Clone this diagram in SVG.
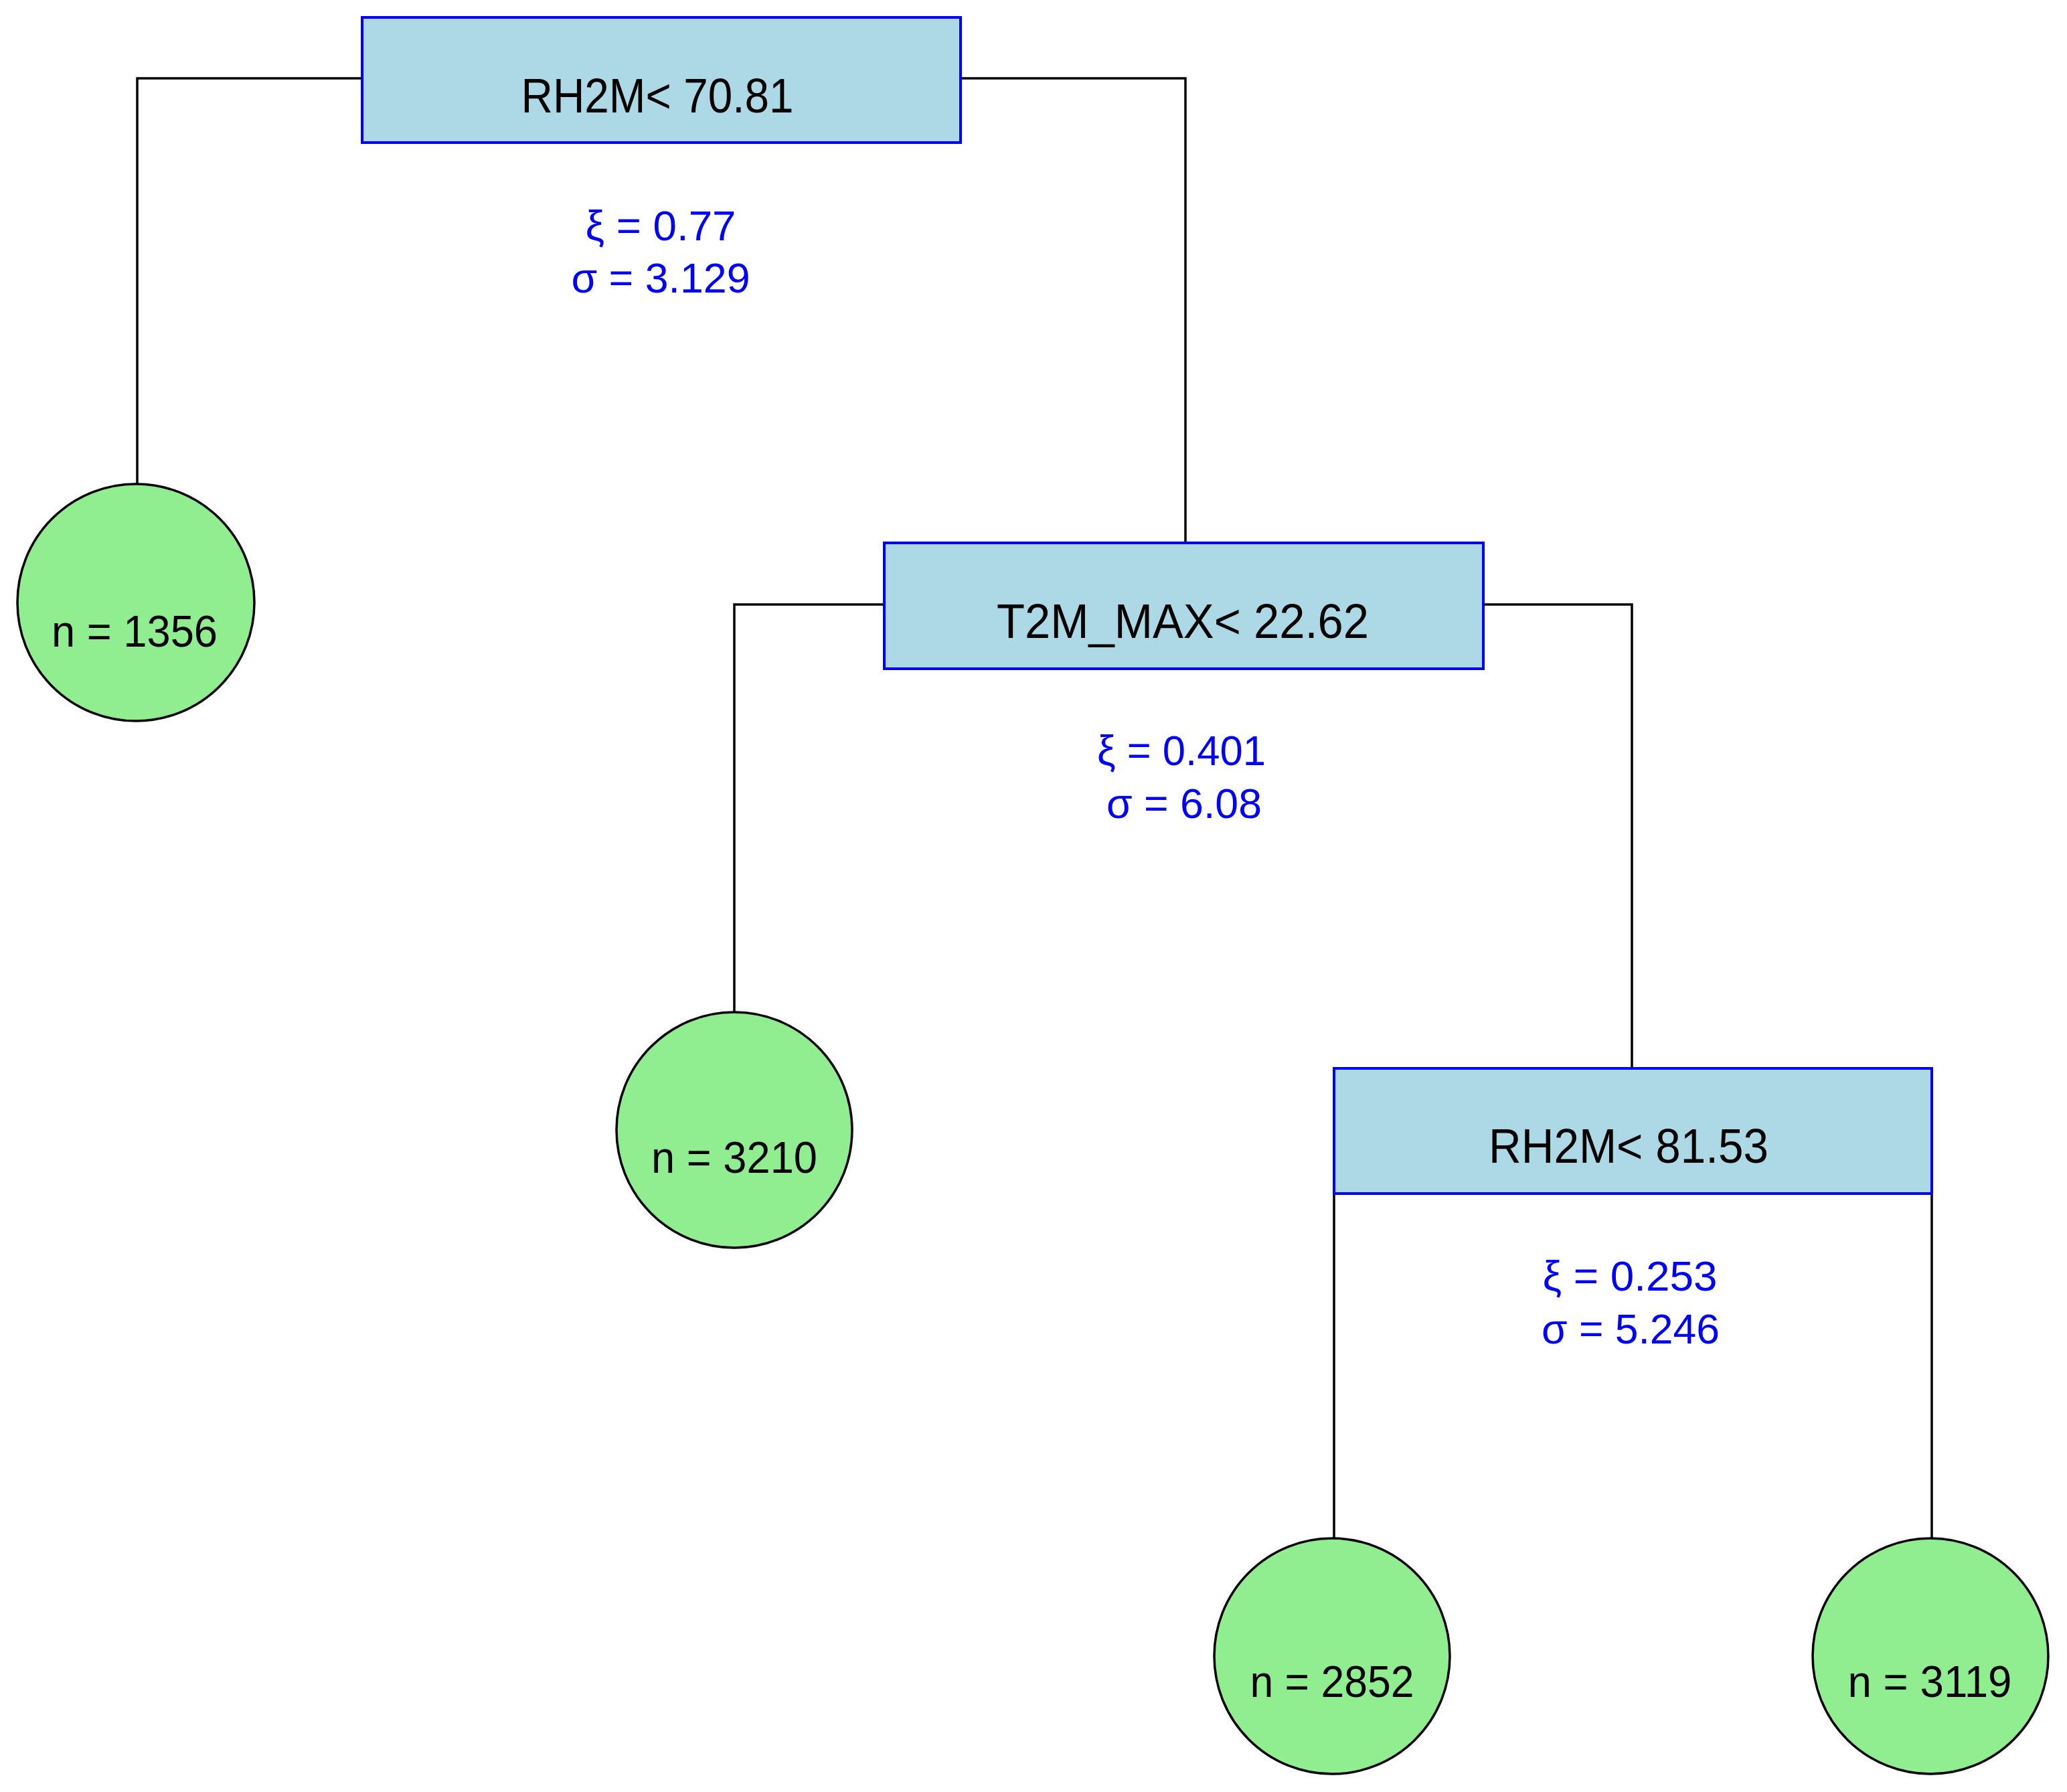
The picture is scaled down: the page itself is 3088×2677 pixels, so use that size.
<svg xmlns="http://www.w3.org/2000/svg" width="3088" height="2677" viewBox="0 0 3088 2677">
<style>
.box{fill:#ADD8E6;stroke:#0000FF;stroke-width:4}
.leaf{fill:#90EE90;stroke:#000;stroke-width:3.5}
.edge{fill:none;stroke:#000;stroke-width:3.5}
.lbl{font-family:"Liberation Sans",Arial,sans-serif;font-size:72px;fill:#000;text-anchor:middle}
.n{font-family:"Liberation Sans",Arial,sans-serif;font-size:66px;fill:#000;text-anchor:middle}
.st{font-family:"Liberation Sans",Arial,sans-serif;font-size:63px;fill:#0000FF;text-anchor:middle}
</style>
<rect width="3088" height="2677" fill="#fff"/>
<g id="connectors">
<polyline class="edge" points="541,117 205,117 205,723"/>
<polyline class="edge" points="1435,117 1771,117 1771,811"/>
<polyline class="edge" points="1321,903 1097,903 1097,1513"/>
<polyline class="edge" points="2216,903 2438,903 2438,1596"/>
<polyline class="edge" points="1993,1783 1993,2298"/>
<polyline class="edge" points="2886,1783 2886,2298"/>
</g>
<g id="node1">
<rect class="box" x="541" y="26" width="894" height="187"/>
<text class="lbl" x="982" y="168" textLength="407" lengthAdjust="spacingAndGlyphs">RH2M&lt; 70.81</text>
<text class="st" x="987" y="359" textLength="225" lengthAdjust="spacingAndGlyphs">ξ = 0.77</text>
<text class="st" x="987" y="437" textLength="267" lengthAdjust="spacingAndGlyphs">σ = 3.129</text>
</g>
<g id="leaf1">
<circle class="leaf" cx="203" cy="900" r="177"/>
<text class="n" x="201" y="966" textLength="248" lengthAdjust="spacingAndGlyphs">n = 1356</text>
</g>
<g id="node2">
<rect class="box" x="1321" y="811" width="895" height="188"/>
<text class="lbl" x="1767" y="953" textLength="556" lengthAdjust="spacingAndGlyphs">T2M_MAX&lt; 22.62</text>
<text class="st" x="1765" y="1143" textLength="252" lengthAdjust="spacingAndGlyphs">ξ = 0.401</text>
<text class="st" x="1769" y="1222" textLength="232" lengthAdjust="spacingAndGlyphs">σ = 6.08</text>
</g>
<g id="leaf2">
<circle class="leaf" cx="1097" cy="1688" r="176"/>
<text class="n" x="1097" y="1752" textLength="248" lengthAdjust="spacingAndGlyphs">n = 3210</text>
</g>
<g id="node3">
<rect class="box" x="1993" y="1596" width="893" height="187"/>
<text class="lbl" x="2433" y="1737" textLength="418" lengthAdjust="spacingAndGlyphs">RH2M&lt; 81.53</text>
<text class="st" x="2435" y="1928" textLength="261" lengthAdjust="spacingAndGlyphs">ξ = 0.253</text>
<text class="st" x="2436" y="2007" textLength="266" lengthAdjust="spacingAndGlyphs">σ = 5.246</text>
</g>
<g id="leaf3">
<circle class="leaf" cx="1990" cy="2474" r="176"/>
<text class="n" x="1990" y="2535" textLength="245" lengthAdjust="spacingAndGlyphs">n = 2852</text>
</g>
<g id="leaf4">
<circle class="leaf" cx="2884" cy="2474" r="176"/>
<text class="n" x="2883" y="2535" textLength="245" lengthAdjust="spacingAndGlyphs">n = 3119</text>
</g>
</svg>
